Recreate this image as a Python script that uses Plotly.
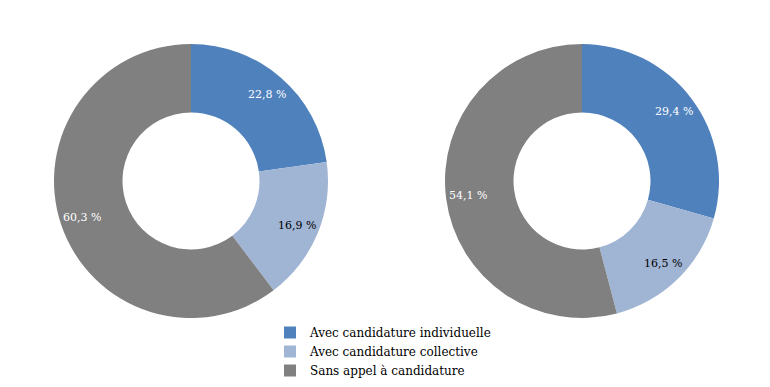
import math
import plotly.graph_objects as go

labels = ["Avec candidature individuelle", "Avec candidature collective", "Sans appel à candidature"]
values_left = [22.8, 16.9, 60.3]
values_right = [29.4, 16.5, 54.1]
colors = ["#4F81BD", "#A0B4D4", "#808080"]
text_colors = ["white", "black", "white"]

# page body has an 8px margin; figure sized to the visible part
OFF = 8
W, H = 770 - OFF, 387 - OFF
R = 137
CY = 181 - OFF
FONT = "DejaVu Serif"

def dom(cx):
    return dict(x=[(cx - R) / W, (cx + R) / W], y=[1 - (CY + R) / H, 1 - (CY - R) / H])

fig = go.Figure()
annotations = []
for vals, cx_ref in [(values_left, 191), (values_right, 582)]:
    cx = cx_ref - OFF
    fig.add_trace(go.Pie(
        labels=labels, values=vals, hole=0.5, sort=False, direction="clockwise",
        rotation=0, marker=dict(colors=colors, line=dict(width=0)),
        textinfo="none", domain=dom(cx), hoverinfo="label+value",
    ))
    total = sum(vals)
    cum = 0.0
    for v, tc in zip(vals, text_colors):
        ang = 2 * math.pi * (cum + v / 2) / total
        cum += v
        r = 0.84 * R
        x = cx + r * math.sin(ang)
        y = CY - r * math.cos(ang)
        annotations.append(dict(
            x=x / W, y=1 - y / H, xref="paper", yref="paper", showarrow=False,
            xanchor="center", yanchor="middle",
            text=f"{v:.1f}".replace(".", ",") + " %",
            font=dict(color=tc, size=11, family=FONT),
        ))

fig.update_layout(
    width=W, height=H, margin=dict(l=0, r=0, t=0, b=0),
    paper_bgcolor="white", plot_bgcolor="white",
    separators=", ",
    font=dict(family=FONT, size=12, color="black"),
    annotations=annotations,
    legend=dict(x=(270 - OFF) / W, y=1 - (318 - OFF) / H, xanchor="left", yanchor="top",
                font=dict(size=12, family=FONT), bgcolor="rgba(0,0,0,0)",
                tracegroupgap=0),
    showlegend=True,
)
fig.write_html("out.html")
